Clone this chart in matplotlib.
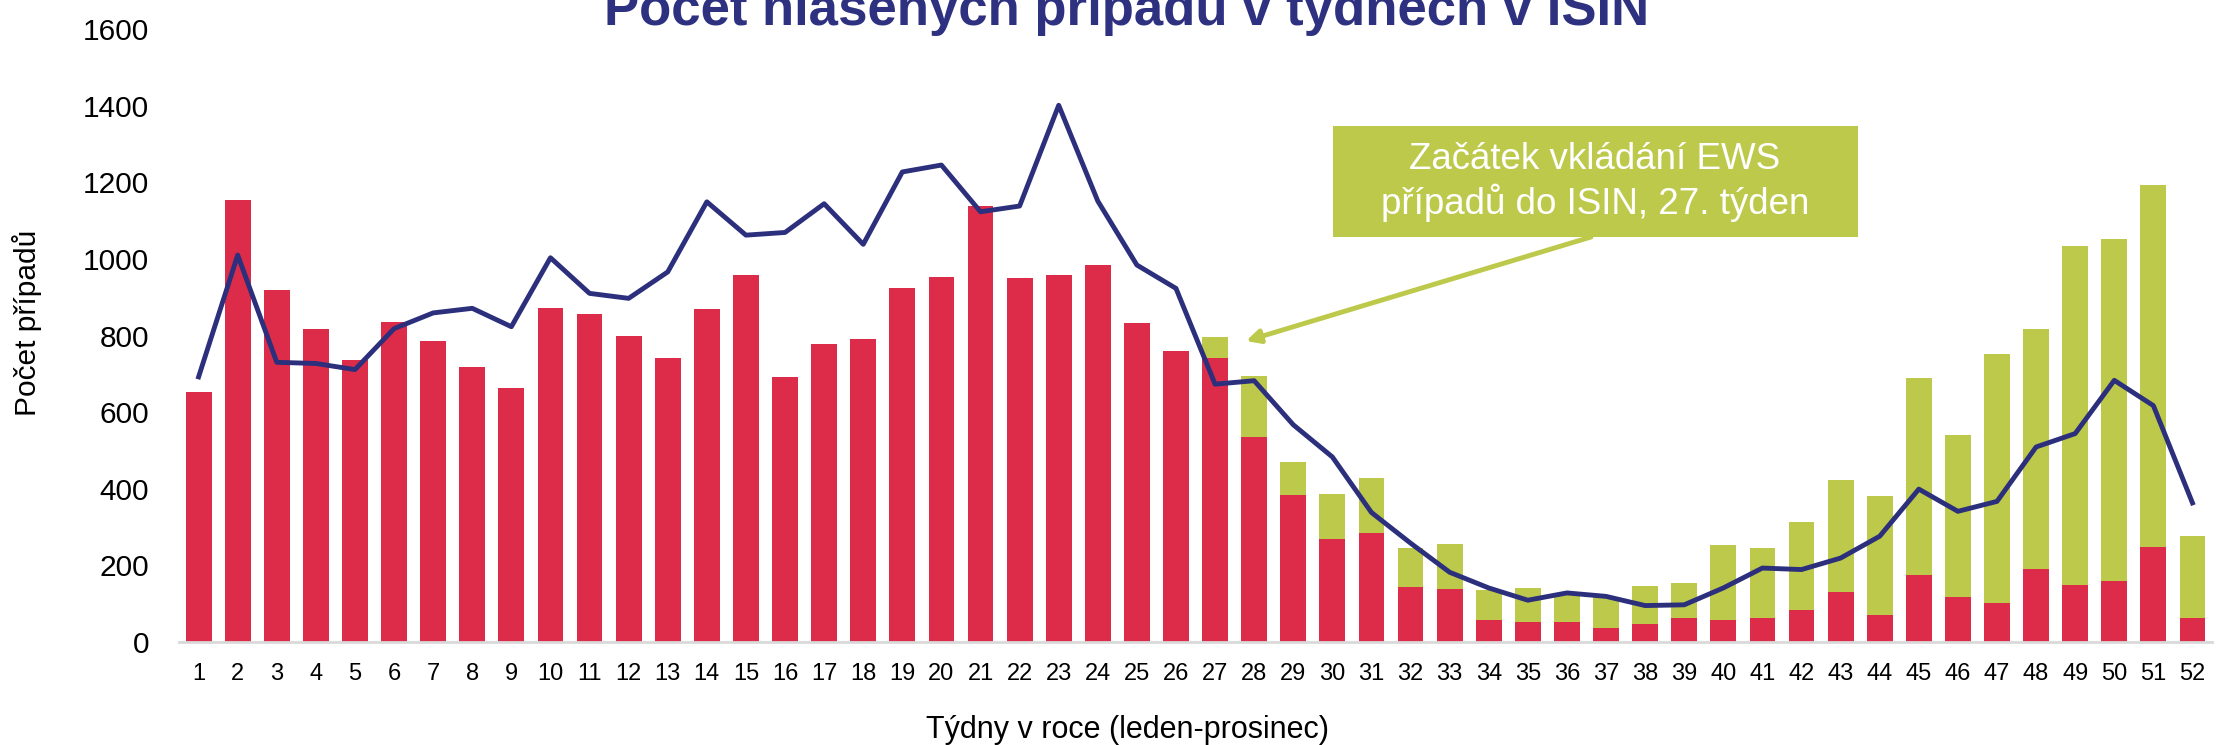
import numpy as np
import matplotlib.pyplot as plt
from matplotlib.patches import Rectangle

# Weekly reported cases (ISIN) and EWS cases added from week 27
weeks = np.arange(1, 53)
isin_cases = [652, 1153, 918, 818, 736, 834, 786, 717, 664, 873,
              855, 800, 740, 868, 959, 691, 777, 790, 924, 954,
              1139, 950, 957, 984, 832, 759, 742, 536, 383, 270,
              284, 143, 137, 57, 53, 51, 36, 46, 62, 58,
              63, 83, 130, 71, 176, 117, 103, 190, 150, 160,
              247, 62]
ews_cases = [0] * 26 + [53, 158, 88, 116, 144, 102, 119, 79, 87, 74,
                        81, 101, 91, 194, 183, 230, 294, 309, 514, 423,
                        648, 626, 884, 891, 946, 214]
# Comparison line (previous period)
line_values = [692, 1010, 730, 727, 711, 818, 859, 871, 823, 1003,
               910, 897, 966, 1149, 1062, 1069, 1144, 1038, 1227, 1245,
               1123, 1138, 1401, 1151, 984, 923, 673, 682, 567, 483,
               338, 258, 182, 141, 109, 128, 119, 95, 97, 141,
               193, 189, 219, 276, 399, 341, 367, 509, 544, 683,
               617, 363]

RED = '#DC2C4A'
GREEN = '#BDC94B'
NAVY = '#2C2F7C'

plt.rcParams['font.family'] = ['Liberation Sans', 'DejaVu Sans']

fig = plt.figure(figsize=(22.16, 7.45), dpi=100)
ax = fig.add_axes([0.0808, 0.1383, 0.9174, 0.8227])

ax.bar(weeks, isin_cases, width=0.66, color=RED, zorder=2)
ax.bar(weeks, ews_cases, width=0.66, bottom=isin_cases, color=GREEN, zorder=2)
ax.plot(weeks, line_values, color=NAVY, lw=3.5, zorder=3)

ax.set_xlim(0.5, 52.5)
ax.set_ylim(0, 1600)
ax.set_yticks(np.arange(0, 1601, 200))
ax.set_xticks(weeks)
ax.tick_params(axis='y', length=0, labelsize=21.5, pad=21.5)
ax.tick_params(axis='x', length=0, labelsize=17, pad=15)
for s in ['top', 'right', 'left']:
    ax.spines[s].set_visible(False)
ax.spines['bottom'].set_color('#D9D9D9')
ax.spines['bottom'].set_linewidth(2)

# Title (partly cut at the top as in the source)
fig.text(0.5085, 1 - 25 / 745, 'Počet hlášených případů v týdnech v ISIN',
         ha='center', va='baseline', fontsize=38, fontweight='bold',
         color='#2E3180')
fig.text(0.509, 1 - 738 / 745, 'Týdny v roce (leden-prosinec)',
         ha='center', va='baseline', fontsize=22)
fig.text(27 / 2216, 1 - 323 / 745, 'Počet případů', rotation=90,
         ha='center', va='center', fontsize=21.5)

# Annotation box with arrow
ax.add_patch(Rectangle((0.5676, 0.6602), 0.8259 - 0.5676, 0.8423 - 0.6602,
                       transform=ax.transAxes, facecolor=GREEN,
                       edgecolor='none', zorder=4))
ax.text(0.6965, 0.7504, 'Začátek vkládání EWS\npřípadů do ISIN, 27. týden',
        transform=ax.transAxes, ha='center', va='center', fontsize=26.5,
        color='white', linespacing=1.2, zorder=5)
ax.annotate('', xy=(0.5248, 0.491), xytext=(0.6945, 0.6607),
            xycoords='axes fraction', textcoords='axes fraction',
            arrowprops=dict(arrowstyle='-|>,head_length=0.8,head_width=0.4',
                            color=GREEN, lw=3.5, shrinkA=0, shrinkB=0),
            zorder=4)

fig.savefig('out.png', dpi=100)
